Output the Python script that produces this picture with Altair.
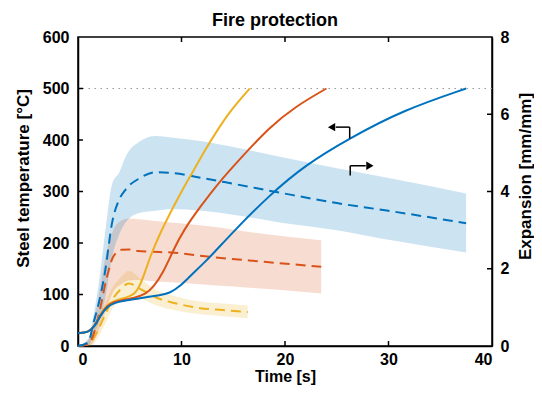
import altair as alt
import pandas as pd

FONT = "Liberation Sans"
NAMES = ["Yellow", "Orange", "Blue"]
COLORS = ["#EDB120", "#D95319", "#0072BD"]

# ---- Steel temperature [°C] (solid lines, left axis)
yel_t = [0, 1.0, 1.6, 2.2, 2.8, 3.5, 4.5, 5.5, 6.0, 6.5, 7.0, 8.0, 9.0, 10.0, 11.0, 12.4, 13.5, 14.5, 15.5, 16.6]
yel_T = [25, 26, 38, 63, 80, 88, 93, 100, 118, 145, 175, 222, 262, 300, 335, 385, 420, 450, 475, 500]
org_t = [0, 1.0, 1.6, 2.2, 2.8, 3.5, 4.5, 5.5, 6.5, 7.3, 8.2, 9.2, 10.2, 11.8, 13.5, 15.5, 18.5, 21.0, 24.0]
org_T = [25, 26, 38, 62, 78, 86, 90, 94, 100, 115, 141, 186, 225, 270, 315, 360, 425, 465, 500]
blu_t = [0, 1.0, 1.6, 2.2, 2.8, 3.5, 4.5, 5.5, 6.9, 8.0, 8.9, 9.8, 10.8, 12.0, 13.0, 15.0, 18.5, 22.0, 26.2, 31.4, 37.5]
blu_T = [25, 26, 38, 60, 76, 84, 88, 91, 96, 99, 103, 115, 135, 158, 178, 222, 293, 352, 403, 458, 500]

# ---- Expansion [mm/mm] (dashed mean + band, right axis)
yel_et = [0, 1.0, 1.5, 2.0, 2.6, 3.3, 4.2, 4.9, 6.2, 7.6, 9.5, 11.8, 14.0, 16.4]
yel_em = [0, 0.05, 0.2, 0.45, 0.8, 1.19, 1.49, 1.62, 1.45, 1.25, 1.1, 0.98, 0.93, 0.88]
yel_hi = [0, 0.15, 0.4, 0.7, 1.1, 1.5, 1.8, 1.95, 1.7, 1.45, 1.28, 1.15, 1.1, 1.05]
yel_lo = [0, 0.0, 0.05, 0.25, 0.55, 0.95, 1.2, 1.3, 1.22, 1.05, 0.92, 0.82, 0.77, 0.72]

org_et = [0, 1.0, 1.5, 2.0, 2.8, 3.4, 4.2, 5.0, 5.8, 7.0, 9.0, 12.7, 18.0, 23.5]
org_em = [0, 0.05, 0.3, 0.8, 1.79, 2.31, 2.49, 2.5, 2.46, 2.44, 2.42, 2.31, 2.18, 2.05]
org_hi = [0, 0.15, 0.6, 1.3, 2.5, 3.0, 3.25, 3.3, 3.28, 3.25, 3.2, 3.1, 2.9, 2.74]
org_lo = [0, 0.0, 0.1, 0.4, 1.0, 1.4, 1.6, 1.7, 1.71, 1.68, 1.65, 1.58, 1.48, 1.36]

blu_et = [0, 1.0, 1.5, 2.0, 2.6, 3.3, 4.0, 4.6, 6.0, 7.5, 9.0, 12.0, 15.0, 19.5, 25.0, 30.0, 37.5]
blu_em = [0, 0.1, 0.6, 1.1, 1.9, 3.2, 3.8, 4.05, 4.35, 4.5, 4.48, 4.35, 4.2, 3.97, 3.7, 3.5, 3.18]
blu_hi = [0, 0.2, 0.8, 1.6, 2.9, 4.2, 4.5, 4.9, 5.3, 5.44, 5.4, 5.3, 5.15, 4.9, 4.6, 4.35, 3.95]
blu_lo = [0, 0.0, 0.3, 0.6, 1.2, 2.3, 2.9, 3.2, 3.45, 3.5, 3.55, 3.5, 3.4, 3.2, 3.0, 2.75, 2.42]

# ---- axis ticks
x_ticks = [0, 10, 20, 30, 40]
T_ticks = [0, 100, 200, 300, 400, 500, 600]
E_ticks = [0, 2, 4, 6, 8]
x_inner = [10, 20, 30]
T_inner = [100, 200, 300, 400, 500]
E_inner = [2, 4, 6]
T_limit = 500

# ---- annotation arrows (data coords: time, temperature)
arr_seg_x = [26.25, 26.25, 26.25, 24.9, 26.3, 26.3, 26.3, 27.8]
arr_seg_y = [403, 425, 425, 425, 331, 350, 350, 350]
arr_seg_id = [1, 1, 2, 2, 3, 3, 4, 4]
arr_head_x = [24.5, 28.2]
arr_head_y = [425, 350]
arr_head_shape = ["triangle-left", "triangle-right"]

W, H = 414, 309

temp_df = pd.concat([
    pd.DataFrame({"t": yel_t, "v": yel_T, "s": NAMES[0]}),
    pd.DataFrame({"t": org_t, "v": org_T, "s": NAMES[1]}),
    pd.DataFrame({"t": blu_t, "v": blu_T, "s": NAMES[2]}),
])
exp_df = pd.concat([
    pd.DataFrame({"t": yel_et, "m": yel_em, "hi": yel_hi, "lo": yel_lo, "s": NAMES[0]}),
    pd.DataFrame({"t": org_et, "m": org_em, "hi": org_hi, "lo": org_lo, "s": NAMES[1]}),
    pd.DataFrame({"t": blu_et, "m": blu_em, "hi": blu_hi, "lo": blu_lo, "s": NAMES[2]}),
])

color = alt.Color("s:N", scale=alt.Scale(domain=NAMES, range=COLORS), legend=None)

common_axis = dict(labelFont=FONT, labelFontWeight="bold", labelFontSize=16, labelColor="black",
                   titleFont=FONT, titleFontWeight="bold", titleFontSize=17, titleColor="black",
                   domainColor="black", domainWidth=1.5, ticks=False, tickSize=0, grid=False)

x_common = dict(common_axis)
x_common["titleFontSize"] = 16
x_axis = alt.Axis(values=x_ticks, title="Time [s]", labelPadding=5,
                  titleX=207, titleY=30, titleBaseline="middle", titleAlign="center", **x_common)
xs = alt.Scale(domain=[0, 40], nice=False)
T_axis = alt.Axis(orient="left", values=T_ticks, title="Steel temperature [°C]", labelPadding=9,
                  titleX=-55, titleY=141, titleAngle=270, titleBaseline="middle", titleAlign="center",
                  **common_axis)
Ts = alt.Scale(domain=[0, 600], nice=False)
E_axis = alt.Axis(orient="right", values=E_ticks, title="Expansion [mm/mm]", labelPadding=8,
                  titleX=33, titleY=139, titleAngle=270, titleBaseline="middle", titleAlign="center",
                  **common_axis)
Es = alt.Scale(domain=[0, 8], nice=False)

def X(field="t"):
    return alt.X(f"{field}:Q", scale=xs, axis=x_axis)

# right (expansion) layer
bands = alt.Chart(exp_df).mark_area(opacity=0.2, interpolate="monotone").encode(
    x=X(), y=alt.Y("lo:Q", scale=Es, axis=E_axis), y2="hi:Q", color=color)
dashed = alt.Chart(exp_df).mark_line(strokeDash=[10, 6], strokeWidth=2, interpolate="monotone").encode(
    x=X(), y=alt.Y("m:Q", scale=Es, axis=E_axis), color=color)
E_tick_df = pd.DataFrame({"v": E_inner})
E_tick_marks = alt.Chart(E_tick_df).mark_rule(color="black", strokeWidth=1.5).encode(
    y=alt.Y("v:Q", scale=Es, axis=E_axis), x=alt.value(W), x2=alt.value(W - 5))
right = alt.layer(bands, dashed, E_tick_marks)

# left (temperature) layer
solid = alt.Chart(temp_df).mark_line(strokeWidth=2, interpolate="basis").encode(
    x=X(), y=alt.Y("v:Q", scale=Ts, axis=T_axis), color=color)
limit = alt.Chart(pd.DataFrame({"v": [T_limit]})).mark_rule(
    color="#9a9a9a", strokeDash=[1.5, 4.5], strokeWidth=1.2).encode(
    y=alt.Y("v:Q", scale=Ts, axis=T_axis))
T_tick_marks = alt.Chart(pd.DataFrame({"v": T_inner})).mark_rule(color="black", strokeWidth=1.5).encode(
    y=alt.Y("v:Q", scale=Ts, axis=T_axis), x=alt.value(0), x2=alt.value(5))
x_tick_df = pd.DataFrame({"t": x_inner})
x_bot = alt.Chart(x_tick_df).mark_rule(color="black", strokeWidth=1.5).encode(
    x=X(), y=alt.value(H), y2=alt.value(H - 5))
x_top = alt.Chart(x_tick_df).mark_rule(color="black", strokeWidth=1.5).encode(
    x=X(), y=alt.value(0), y2=alt.value(5))
seg_df = pd.DataFrame({"t": arr_seg_x, "v": arr_seg_y, "id": arr_seg_id})
arrows = alt.Chart(seg_df).mark_line(color="black", strokeWidth=1.5).encode(
    x=X(), y=alt.Y("v:Q", scale=Ts, axis=T_axis), detail="id:N")
head_df = pd.DataFrame({"t": arr_head_x, "v": arr_head_y, "shape": arr_head_shape})
heads = alt.Chart(head_df).mark_point(filled=True, color="black", size=70, opacity=1).encode(
    x=X(), y=alt.Y("v:Q", scale=Ts, axis=T_axis),
    shape=alt.Shape("shape:N", scale=None, legend=None))
left = alt.layer(limit, solid, T_tick_marks, x_bot, x_top, arrows, heads)

chart = alt.layer(right, left).resolve_scale(y="independent").properties(
    width=W, height=H,
    title=alt.TitleParams("Fire protection", font=FONT, fontSize=18, fontWeight="bold",
                          color="black", anchor="middle", dx=-10, dy=10, offset=9),
    autosize=alt.AutoSizeParams(type="none"),
    padding={"left": 70, "top": 29, "right": 42, "bottom": 40},
).configure_view(stroke="black", strokeWidth=1.5)

chart.save("out.html", embed_options={"renderer": "svg", "actions": False})
